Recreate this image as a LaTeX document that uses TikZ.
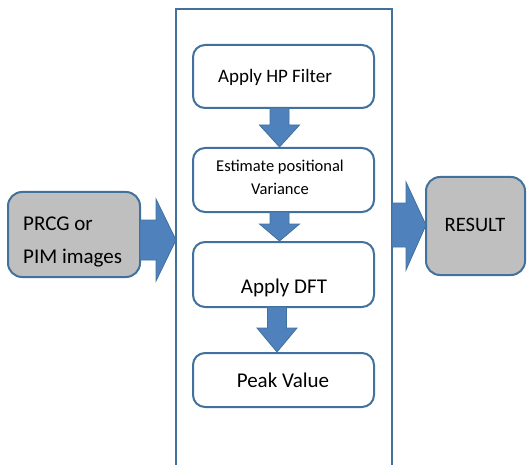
\documentclass[tikz,border=0pt]{standalone}
\usepackage{fontspec}
\setmainfont{Carlito}
\usetikzlibrary{calc}
\definecolor{edge}{HTML}{41719C}
\definecolor{arrowfill}{HTML}{4F81BD}
\definecolor{boxgray}{HTML}{BFBFBF}
\newcommand\blockdown[4]{\draw[blockarrow] ($(#1.south)+(#3-9.5,-1)$) -- ($(#2.north)+(#3-9.5,-#4)$) -- ($(#2.north)+(#3-20,-#4)$) -- ($(#2.north)+(#3,0)$) -- ($(#2.north)+(#3+20,-#4)$) -- ($(#2.north)+(#3+9.5,-#4)$) -- ($(#1.south)+(#3+9.5,-1)$) -- cycle;}
\begin{document}
\begin{tikzpicture}[x=1pt,y=-1pt,
  stepbox/.style={draw=edge,line width=2pt,rounded corners=12pt,fill=white,minimum width=181pt,inner sep=0pt},
  graybox/.style={draw=edge,line width=2pt,rounded corners=14pt,fill=boxgray,inner sep=0pt},
  blockarrow/.style={fill=arrowfill,draw=edge,line width=0.8pt,line join=miter},
  lbl/.style={inner sep=0pt,anchor=base,text=black}]
\useasboundingbox (0,0) rectangle (527,465);
% frame
\coordinate (fTL) at (176,9);
\coordinate (fTR) at (392,9);
\coordinate (fBL) at (176,470);
\coordinate (fBR) at (392,470);
\draw[edge,line width=2pt] (fBL) -- (fTL) -- (fTR) -- (fBR);
% boxes
\node[stepbox,minimum height=63pt] (hp) at (283.5,76.5) {};
\node[stepbox,minimum height=64pt] (est) at (283.5,180) {};
\node[stepbox,minimum height=65pt] (dft) at (283.5,274.5) {};
\node[stepbox,minimum height=54pt] (peak) at (283.5,380) {};
\node[graybox,minimum width=132pt,minimum height=85pt] (in) at (74,234.5) {};
\node[graybox,minimum width=99pt,minimum height=98pt] (res) at (475.5,226) {};
% down arrows
\blockdown{hp}{est}{-4}{22}
\blockdown{est}{dft}{-4}{17}
\blockdown{dft}{peak}{-6.5}{24}
% left arrow
\coordinate (ltip) at (176,240);
\draw[blockarrow] ($(in.east)+(-1,-14.5)$) -- ($(ltip)+(-20,-20)$) -- ($(ltip)+(-20,-41)$) -- (ltip) -- ($(ltip)+(-20,41)$) -- ($(ltip)+(-20,20)$) -- ($(in.east)+(-1,25.5)$) -- cycle;
% right arrow
\coordinate (rbase) at (392,225);
\draw[blockarrow] ($(rbase)+(0,-22)$) -- ($(res.west)+(-19,-23)$) -- ($(res.west)+(-19,-44)$) -- ($(res.west)+(1,-1)$) -- ($(res.west)+(-19,44)$) -- ($(res.west)+(-19,21)$) -- ($(rbase)+(0,22)$) -- cycle;
% texts
\node[lbl,font=\fontsize{19}{22}\selectfont] (thp) at (275,83) {Apply HP Filter};
\node[lbl,font=\fontsize{16.5}{19}\selectfont] (test1) at (280,172) {Estimate positional};
\node[lbl,font=\fontsize{16.5}{19}\selectfont] (test2) at (280,195) {Variance};
\node[lbl,font=\fontsize{21}{24}\selectfont] (tdft) at (284,293) {Apply DFT};
\node[lbl,font=\fontsize{21}{24}\selectfont] (tpeak) at (283,387) {Peak Value};
\node[lbl,font=\fontsize{20.5}{24}\selectfont] (tres) at (475,231) {RESULT};
\node[lbl,anchor=base west,font=\fontsize{21}{24}\selectfont] (tin1) at (23,230) {PRCG or};
\node[lbl,anchor=base west,font=\fontsize{21}{24}\selectfont] (tin2) at (23,263) {PIM images};
\end{tikzpicture}
\end{document}
